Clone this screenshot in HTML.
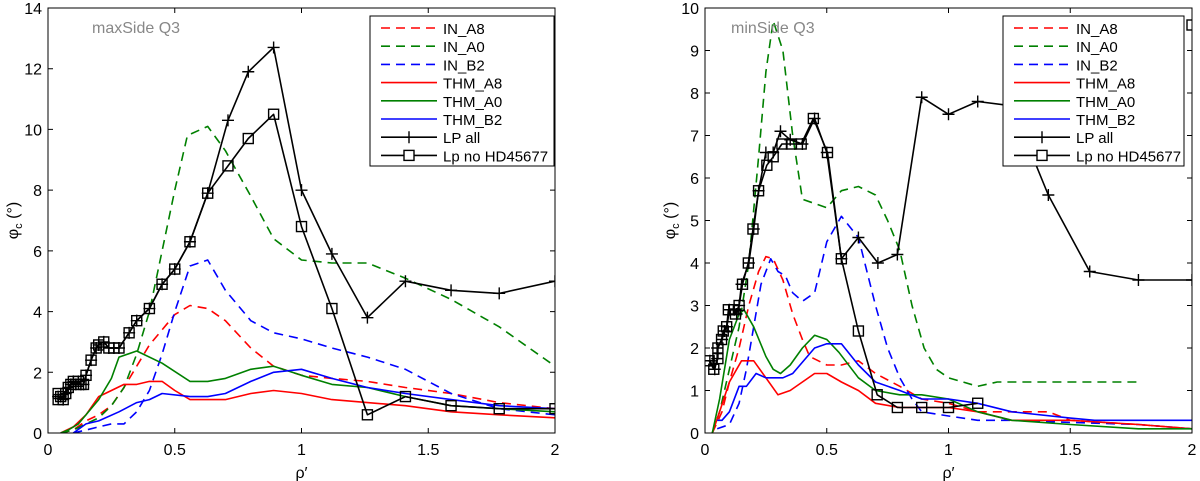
<!DOCTYPE html>
<html><head><meta charset="utf-8"><style>
body{margin:0;background:#fff;}
svg{display:block;font-family:"Liberation Sans",Arial,sans-serif;}
</style></head><body>
<svg id="chart" width="1200" height="481" viewBox="0 0 1200 481"></svg>
<script>
// ---------- data: left panel (maxSide Q3) ----------
const xTicks=[0,0.5,1,1.5,2];
const xTickLabels=["0","0.5","1","1.5","2"];
const yTicksL=[0,2,4,6,8,10,12,14];
const yTicksR=[0,1,2,3,4,5,6,7,8,9,10];
const seriesNames=["IN_A8","IN_A0","IN_B2","THM_A8","THM_A0","THM_B2","LP all","Lp no HD45677"];

const L_IN_A8_x=[0.05,0.1,0.15,0.2,0.25,0.3,0.35,0.4,0.45,0.5,0.56,0.63,0.7,0.8,0.89,1.0,1.12,1.26,1.41,1.59,1.78,2.0];
const L_IN_A8_y=[0,0.1,0.4,0.6,0.9,1.5,2.2,2.9,3.4,3.9,4.2,4.1,3.7,2.8,2.2,1.9,1.8,1.7,1.5,1.3,1.0,0.8];
const L_IN_A0_x=[0.05,0.1,0.15,0.2,0.25,0.3,0.35,0.4,0.45,0.5,0.55,0.63,0.7,0.8,0.89,1.0,1.12,1.26,1.41,1.59,1.78,2.0];
const L_IN_A0_y=[0,0.1,0.3,0.5,0.9,1.5,2.6,4.0,6.0,8.0,9.8,10.1,9.3,7.8,6.4,5.7,5.6,5.6,5.1,4.4,3.5,2.2];
const L_IN_B2_x=[0.1,0.15,0.2,0.25,0.3,0.35,0.4,0.45,0.5,0.56,0.63,0.7,0.8,0.89,1.0,1.12,1.26,1.41,1.59,1.78,2.0];
const L_IN_B2_y=[0,0.1,0.2,0.3,0.3,0.7,1.4,2.6,4.0,5.5,5.7,4.7,3.7,3.3,3.1,2.8,2.5,2.1,1.3,0.8,0.6];
const L_THM_A8_x=[0.05,0.1,0.15,0.2,0.25,0.3,0.35,0.4,0.45,0.5,0.56,0.63,0.7,0.8,0.89,1.0,1.12,1.26,1.41,1.59,1.78,2.0];
const L_THM_A8_y=[0,0.2,0.6,1.2,1.4,1.6,1.6,1.7,1.7,1.4,1.1,1.1,1.1,1.3,1.4,1.3,1.1,1.0,0.9,0.7,0.6,0.5];
const L_THM_A0_x=[0.05,0.08,0.12,0.2,0.25,0.28,0.35,0.45,0.56,0.63,0.7,0.8,0.89,1.0,1.12,1.26,1.41,1.59,1.78,2.0];
const L_THM_A0_y=[0,0.1,0.3,1.1,1.8,2.5,2.7,2.3,1.7,1.7,1.8,2.1,2.2,1.9,1.6,1.5,1.2,0.9,0.8,0.7];
const L_THM_B2_x=[0.1,0.15,0.2,0.28,0.35,0.4,0.45,0.56,0.63,0.7,0.8,0.89,1.0,1.12,1.26,1.41,1.59,1.78,2.0];
const L_THM_B2_y=[0,0.3,0.4,0.7,1.0,1.1,1.3,1.2,1.2,1.3,1.7,2.0,2.1,1.8,1.5,1.3,1.1,0.9,0.8];
const L_LPall_x=[0.04,0.05,0.06,0.07,0.08,0.09,0.1,0.11,0.12,0.13,0.14,0.15,0.17,0.19,0.2,0.22,0.24,0.26,0.28,0.32,0.35,0.4,0.45,0.5,0.56,0.63,0.71,0.79,0.89,1.0,1.12,1.26,1.41,1.59,1.78,2.0];
const L_LPall_y=[1.2,1.2,1.1,1.3,1.5,1.6,1.7,1.6,1.7,1.6,1.6,1.9,2.4,2.8,2.9,3.0,2.8,2.8,2.8,3.3,3.7,4.1,4.9,5.4,6.3,7.9,10.3,11.9,12.7,8.0,5.9,3.8,5.0,4.7,4.6,5.0];
const L_LPno_x=[0.04,0.04,0.05,0.06,0.07,0.08,0.09,0.1,0.11,0.12,0.13,0.14,0.15,0.17,0.19,0.2,0.22,0.24,0.26,0.28,0.32,0.35,0.4,0.45,0.5,0.56,0.63,0.71,0.79,0.89,1.0,1.12,1.26,1.41,1.59,1.78,2.0];
const L_LPno_y=[1.3,1.1,1.2,1.1,1.3,1.5,1.6,1.7,1.6,1.7,1.6,1.6,1.9,2.4,2.8,2.9,3.0,2.8,2.8,2.8,3.3,3.7,4.1,4.9,5.4,6.3,7.9,8.8,9.7,10.5,6.8,4.1,0.6,1.2,0.9,0.8,0.8];

// ---------- data: right panel (minSide Q3) ----------
const R_IN_A8_x=[0.03,0.07,0.1,0.14,0.18,0.22,0.25,0.28,0.32,0.36,0.4,0.43,0.5,0.56,0.63,0.7,0.8,0.89,1.0,1.12,1.26,1.41,1.5,1.78,2.0];
const R_IN_A8_y=[0,0.5,1.2,2.0,3.0,3.8,4.15,4.1,3.6,2.8,2.2,1.8,1.6,1.6,1.7,1.4,1.1,0.8,0.7,0.5,0.5,0.5,0.3,0.2,0.1];
const R_IN_A0_x=[0.03,0.06,0.1,0.14,0.18,0.22,0.25,0.28,0.32,0.36,0.4,0.45,0.5,0.56,0.63,0.7,0.75,0.8,0.85,0.9,0.95,1.0,1.12,1.2,1.78];
const R_IN_A0_y=[0,0.5,1.5,2.5,4.0,6.5,8.5,9.7,9.0,7.0,5.5,5.4,5.3,5.7,5.8,5.6,5.0,4.3,3.0,2.0,1.5,1.3,1.1,1.2,1.2];
const R_IN_B2_x=[0.05,0.1,0.14,0.17,0.2,0.23,0.27,0.3,0.33,0.36,0.4,0.45,0.5,0.56,0.63,0.7,0.75,0.8,0.85,0.89,1.0,1.12,1.26,1.5,1.78,2.0];
const R_IN_B2_y=[0.1,0.2,0.7,1.5,2.5,3.5,4.1,3.8,3.7,3.3,3.1,3.3,4.5,5.1,4.6,3.0,2.0,1.3,0.8,0.5,0.4,0.3,0.3,0.25,0.2,0.1];
const R_THM_A8_x=[0.03,0.06,0.1,0.15,0.2,0.25,0.3,0.35,0.4,0.45,0.5,0.56,0.63,0.7,0.8,0.89,1.0,1.12,1.26,1.5,1.78,2.0];
const R_THM_A8_y=[0,0.5,1.2,1.7,1.7,1.3,0.9,1.0,1.2,1.4,1.4,1.2,1.0,0.7,0.6,0.6,0.6,0.5,0.3,0.3,0.2,0.1];
const R_THM_A0_x=[0.03,0.06,0.1,0.14,0.16,0.2,0.25,0.28,0.31,0.35,0.4,0.45,0.5,0.55,0.63,0.7,0.8,0.89,1.0,1.12,1.26,1.5,1.78,2.0];
const R_THM_A0_y=[0,0.8,2.2,2.8,2.9,2.5,1.8,1.5,1.4,1.6,2.0,2.3,2.2,1.9,1.3,1.0,0.9,0.9,0.8,0.5,0.3,0.2,0.1,0.1];
const R_THM_B2_x=[0.05,0.07,0.1,0.14,0.17,0.21,0.25,0.32,0.36,0.45,0.5,0.56,0.63,0.7,0.8,0.89,1.0,1.12,1.26,1.5,1.6,2.0];
const R_THM_B2_y=[0.3,0.3,0.5,1.1,1.1,1.4,1.3,1.3,1.4,2.0,2.1,2.1,1.6,1.2,1.0,0.8,0.8,0.7,0.5,0.35,0.3,0.3];
const R_LPall_x=[0.02,0.04,0.05,0.05,0.07,0.08,0.09,0.1,0.12,0.13,0.14,0.15,0.18,0.2,0.22,0.25,0.28,0.31,0.35,0.4,0.45,0.5,0.56,0.63,0.71,0.79,0.89,1.0,1.12,1.26,1.41,1.58,1.78,2.0];
const R_LPall_y=[1.7,1.5,1.75,2.0,2.2,2.4,2.5,2.9,2.9,2.8,3.0,3.5,4.0,4.8,5.7,6.6,6.6,7.1,6.9,6.8,7.4,6.6,4.1,4.6,4.0,4.2,7.9,7.5,7.8,7.7,5.6,3.8,3.6,3.6];
const R_LPno_x=[0.017,0.036,0.053,0.053,0.068,0.075,0.089,0.096,0.118,0.125,0.14,0.154,0.178,0.197,0.22,0.254,0.28,0.316,0.355,0.395,0.445,0.503,0.56,0.63,0.707,0.79,0.89,1.0,1.12];
const R_LPno_y=[1.7,1.5,1.75,2.0,2.2,2.4,2.5,2.9,2.9,2.8,3.0,3.5,4.0,4.8,5.7,6.3,6.5,6.8,6.8,6.8,7.4,6.6,4.1,2.4,0.9,0.6,0.6,0.6,0.7];
const R_extra_x=[2.0];
const R_extra_y=[9.6];

// ---------- rendering ----------
const NS="http://www.w3.org/2000/svg";
const svg=document.getElementById('chart');
function mk(tag,attrs,parent){const e=document.createElementNS(NS,tag);for(const k in attrs)e.setAttribute(k,attrs[k]);(parent||svg).appendChild(e);return e;}

const styles=[
 {c:"#ff0000",d:"9,6",m:null},{c:"#008000",d:"9,6",m:null},{c:"#0000ff",d:"9,6",m:null},
 {c:"#ff0000",d:null,m:null},{c:"#008000",d:null,m:null},{c:"#0000ff",d:null,m:null},
 {c:"#000000",d:null,m:"plus"},{c:"#000000",d:null,m:"square"}];

function panel(opt){
 const g=mk('g',{});
 
 
 const X=v=>opt.x0+(v-0)/2*(opt.x1-opt.x0);
 const Y=v=>opt.y0-(v/opt.ymax)*(opt.y0-opt.y1);
 const clip='clip-'+opt.name;
 const defs=mk('defs',{},g);
 const cp=mk('clipPath',{id:clip},defs);
 mk('rect',{x:opt.x0,y:opt.y1,width:opt.x1-opt.x0,height:opt.y0-opt.y1},cp);
 const plot=mk('g',{'clip-path':'url(#'+clip+')'},g);
 
 
 opt.series.forEach((s,i)=>{
  const st=styles[s.style];
  const pts=s.x.map((xv,j)=>X(xv).toFixed(1)+','+Y(s.y[j]).toFixed(1)).join(' ');
  if(s.x.length>1){
   const pl=mk('polyline',{points:pts,fill:'none',stroke:st.c,'stroke-width':1.6,'stroke-linejoin':'round'},plot);
   if(st.d)pl.setAttribute('stroke-dasharray',st.d);
   
   
  }
  if(st.m){
   s.x.forEach((xv,j)=>{
    const px=X(xv),py=Y(s.y[j]);
    let m;
    if(st.m==='plus'){m=mk('path',{d:`M${px-6},${py}H${px+6}M${px},${py-6}V${py+6}`,stroke:'#000','stroke-width':1.4},plot);}
    else{m=mk('rect',{x:px-5,y:py-5,width:10,height:10,fill:'none',stroke:'#000','stroke-width':1.4},plot);}
    
    
   });
  }
 });
 const box=mk('rect',{x:opt.x0,y:opt.y1,width:opt.x1-opt.x0,height:opt.y0-opt.y1,fill:'none',stroke:'#000','stroke-width':1},g);
 
 
 xTicks.forEach((t,i)=>{
  const px=X(t);
  mk('path',{d:`M${px},${opt.y0}v-5M${px},${opt.y1}v5`,stroke:'#000'},g);
  const tx=mk('text',{x:px,y:opt.y0+22,'text-anchor':'middle','font-size':16},g);
  tx.textContent=xTickLabels[i];
  
  
 });
 opt.yTicks.forEach(t=>{
  const py=Y(t);
  mk('path',{d:`M${opt.x0},${py}h5M${opt.x1},${py}h-5`,stroke:'#000'},g);
  const ty=mk('text',{x:opt.x0-6,y:py+6,'text-anchor':'end','font-size':16},g);
  ty.textContent=String(t);
  
  
 });
 const xl=mk('text',{x:(opt.x0+opt.x1)/2,y:478,'text-anchor':'middle','font-size':16},g);
 xl.textContent='ρ′';
 
 
 const yl=mk('text',{transform:`translate(${opt.x0-30},${(opt.y0+opt.y1)/2}) rotate(-90)`,'text-anchor':'middle','font-size':16},g);
 yl.innerHTML='φ<tspan font-size="11" dy="4">c</tspan><tspan dy="-4"> (°)</tspan>';
 
 
 const an=mk('text',{x:opt.x0+opt.annX,y:33,'font-size':16,fill:'#888'},g);
 an.textContent=opt.title;
 
 
 const lg=mk('g',{},g);
 
 
 mk('rect',{x:opt.lx,y:16,width:opt.lw,height:150,fill:'#fff',stroke:'#000'},lg);
 seriesNames.forEach((n,i)=>{
  const st=styles[i];const yy=28+i*18.2;
  const e=mk('g',{},lg);
  
  
  const ln=mk('line',{x1:opt.lx+11,x2:opt.lx+67,y1:yy,y2:yy,stroke:st.c,'stroke-width':1.6},e);
  if(st.d)ln.setAttribute('stroke-dasharray',st.d);
  const cx=opt.lx+39;
  if(st.m==='plus')mk('path',{d:`M${cx-6},${yy}H${cx+6}M${cx},${yy-6}V${yy+6}`,stroke:'#000','stroke-width':1.4},e);
  if(st.m==='square')mk('rect',{x:cx-5,y:yy-5,width:10,height:10,fill:'#fff',stroke:'#000','stroke-width':1.4},e);
  const t=mk('text',{x:opt.lx+73,y:yy+6,'font-size':15},e);
  t.textContent=n;
 });
}

panel({name:'left-panel',x0:48,x1:555,y0:433,y1:8,ymax:14,yTicks:yTicksL,title:'maxSide Q3',annX:44,lx:370,lw:184,
 series:[
  {label:'IN_A8',style:0,x:L_IN_A8_x,y:L_IN_A8_y},{label:'IN_A0',style:1,x:L_IN_A0_x,y:L_IN_A0_y},
  {label:'IN_B2',style:2,x:L_IN_B2_x,y:L_IN_B2_y},{label:'THM_A8',style:3,x:L_THM_A8_x,y:L_THM_A8_y},
  {label:'THM_A0',style:4,x:L_THM_A0_x,y:L_THM_A0_y},{label:'THM_B2',style:5,x:L_THM_B2_x,y:L_THM_B2_y},
  {label:'LP all',style:6,x:L_LPall_x,y:L_LPall_y},{label:'Lp no HD45677',style:7,x:L_LPno_x,y:L_LPno_y}]});
panel({name:'right-panel',x0:705,x1:1192,y0:433,y1:8,ymax:10,yTicks:yTicksR,title:'minSide Q3',annX:26,lx:1003,lw:181,
 series:[
  {label:'IN_A8',style:0,x:R_IN_A8_x,y:R_IN_A8_y},{label:'IN_A0',style:1,x:R_IN_A0_x,y:R_IN_A0_y},
  {label:'IN_B2',style:2,x:R_IN_B2_x,y:R_IN_B2_y},{label:'THM_A8',style:3,x:R_THM_A8_x,y:R_THM_A8_y},
  {label:'THM_A0',style:4,x:R_THM_A0_x,y:R_THM_A0_y},{label:'THM_B2',style:5,x:R_THM_B2_x,y:R_THM_B2_y},
  {label:'LP all',style:6,x:R_LPall_x,y:R_LPall_y},{label:'Lp no HD45677',style:7,x:R_LPno_x,y:R_LPno_y},
  {label:'Lp extra',style:7,x:R_extra_x,y:R_extra_y}]});
</script>
</body></html>
